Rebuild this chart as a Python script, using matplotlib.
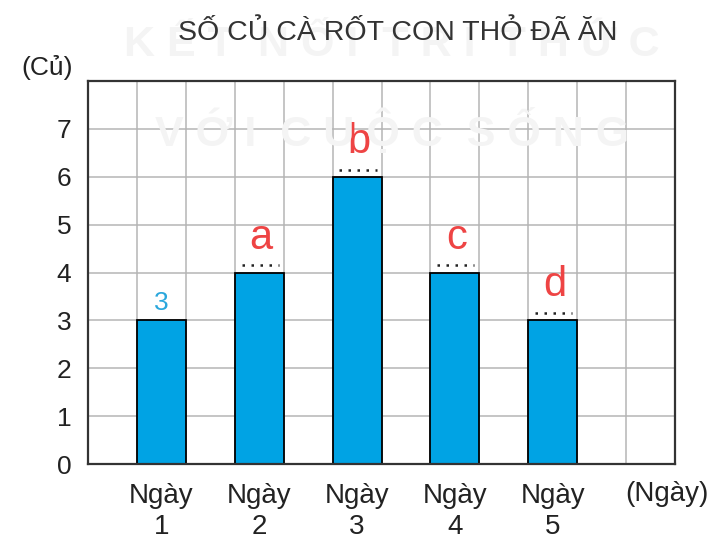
import numpy as np
import matplotlib.pyplot as plt

plt.rcParams['font.family'] = ['Liberation Sans', 'DejaVu Sans']

days = ["Ngày\n1", "Ngày\n2", "Ngày\n3", "Ngày\n4", "Ngày\n5"]
values = [3, 4, 6, 4, 3]
marks = ["3", "a", "b", "c", "d"]
title = "SỐ CỦ CÀ RỐT CON THỎ ĐÃ ĂN"
y_ticks = [0, 1, 2, 3, 4, 5, 6, 7]

bar_color = "#00a3e4"
red = "#ee4444"
cyan = "#2aa7dc"

fig = plt.figure(figsize=(7.26, 5.45), dpi=100)
ax = fig.add_axes([88/726, 1 - 464/545, 587/726, 383/545])
ax.set_facecolor("none")

# faint watermark behind everything
fig.text(0.540, 0.917, "K Ế T  N Ố I  T R I  T H Ứ C", ha="center", va="center",
         fontsize=31, fontweight="bold", color="#f4f4f4", zorder=0)
fig.text(0.540, 0.757, "V Ớ I  C U Ộ C  S Ố N G", ha="center", va="center",
         fontsize=31, fontweight="bold", color="#f4f4f4", zorder=0)

# bars sit on odd grid columns: [1,2], [3,4], ...
x = np.arange(len(values)) * 2 + 1.5
ax.bar(x, values, width=1.0, color=bar_color, edgecolor="black", linewidth=1.3, zorder=3)

for xi, v, m in zip(x, values, marks):
    if m == "3":
        ax.text(xi, v + 0.12, m, ha="center", va="bottom", fontsize=19, color=cyan, zorder=4)
    else:
        ax.plot([xi - 0.36, xi + 0.4], [v + 0.15, v + 0.15], color="#222222",
                linewidth=1.8, linestyle=(0, (1, 2.6)), zorder=4)
        ax.text(xi + 0.04, v + 0.5, m, ha="center", va="baseline", fontsize=30, color=red, zorder=4)

ax.set_xlim(0, 12)
ax.set_ylim(0, 8)
ax.set_xticks(np.arange(0, 13), minor=True)
ax.set_yticks(np.arange(0, 9), minor=True)
ax.grid(which="both", color="#b5b5b5", linewidth=1.1, zorder=1)
ax.grid(which="major", axis="x", visible=False)
ax.set_axisbelow(True)

ax.set_xticks(x)
ax.set_xticklabels(days, fontsize=20, color="#222222", linespacing=1.25)
ax.set_yticks(y_ticks)
ax.set_yticklabels([str(t) for t in y_ticks], fontsize=19, color="#222222")
ax.tick_params(which="both", length=0)
ax.tick_params(axis="x", pad=14)
ax.tick_params(axis="y", pad=12)

for s in ax.spines.values():
    s.set_linewidth(1.6)
    s.set_color("#333333")
    s.set_zorder(5)

fig.text(398/726, 1 - 33/545, title, ha="center", va="center", fontsize=20.5, color="#333333")
fig.text(47/726, 1 - 68/545, "(Củ)", ha="center", va="center", fontsize=19, color="#222222")
fig.text(667/726, 1 - 494/545, "(Ngày)", ha="center", va="center", fontsize=20, color="#222222")

fig.savefig("out.png", dpi=100)
